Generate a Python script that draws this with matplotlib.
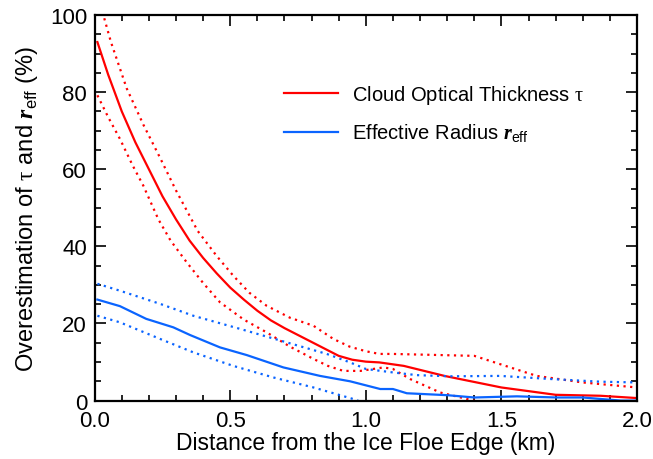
import matplotlib
matplotlib.use("Agg")
import matplotlib.pyplot as plt
from matplotlib.ticker import MultipleLocator

plt.rcParams['font.family'] = ['Liberation Sans', 'DejaVu Sans']
plt.rcParams['mathtext.fontset'] = 'custom'
plt.rcParams['mathtext.rm'] = 'Liberation Serif'
plt.rcParams['mathtext.bf'] = 'Liberation Serif:bold:italic'
plt.rcParams['mathtext.sf'] = 'Liberation Sans'

# Cloud optical thickness tau: mean and spread (dotted)
tau_x = [0.01, 0.05, 0.1, 0.15, 0.2, 0.25, 0.3, 0.35, 0.4, 0.45, 0.5, 0.55, 0.6, 0.65, 0.7, 0.75,
         0.8, 0.85, 0.9, 0.95, 1.0, 1.05, 1.14, 1.29, 1.5, 1.7, 1.865, 2.0]
tau_y = [93, 84.5, 75, 67, 60, 53, 47, 41.5, 37, 33, 29.3, 26.2, 23.3, 20.8, 18.8, 17,
         15.2, 13.4, 11.6, 10.6, 10.1, 9.9, 9.0, 6.4, 3.4, 1.5, 1.25, 0.65]
tau_up_x = [0.01, 0.032, 0.06, 0.118, 0.18, 0.241, 0.3, 0.38, 0.45, 0.511, 0.57, 0.634, 0.72,
            0.807, 0.88, 0.94, 1.0, 1.05, 1.10, 1.40, 1.63, 1.80, 2.0]
tau_up_y = [105.5, 100, 93, 81, 71.5, 63, 54.5, 44, 37.5, 32.4, 28, 24.6, 21.5,
            19.4, 16, 14, 12.8, 12.1, 12.1, 11.6, 6.4, 4.7, 3.4]
tau_lo_x = [0.01, 0.05, 0.093, 0.14, 0.179, 0.235, 0.28, 0.339, 0.4, 0.462, 0.55, 0.634, 0.72,
            0.807, 0.86, 0.917, 0.98, 1.065, 1.10, 1.163, 1.274, 1.397, 1.45]
tau_lo_y = [79.2, 73.5, 67.9, 61, 55.8, 47, 41.5, 35.9, 30.5, 25.5, 21, 17.7, 14,
            10.8, 9, 7.7, 7.7, 8.6, 8.2, 5.6, 2.1, 0, -1]

# Effective radius r_eff: mean and spread (dotted)
reff_x = [0.01, 0.093, 0.19, 0.29, 0.352, 0.462, 0.561, 0.696, 0.831, 0.942, 1.053, 1.10, 1.151,
          1.30, 1.40, 1.557, 1.705, 1.80, 1.94, 2.0]
reff_y = [26.2, 24.5, 21.2, 19, 17, 13.8, 11.8, 8.6, 6.4, 5.0, 3.0, 3.0, 1.9,
          1.4, 0.8, 1.1, 0.8, 0.8, 0, 0]
reff_up_x = [0.01, 0.093, 0.241, 0.364, 0.536, 0.708, 0.856, 0.942, 1.0, 1.10, 1.188, 1.311,
             1.496, 1.68, 1.865, 2.0]
reff_up_y = [30.3, 28.5, 25.1, 22, 18.6, 15.1, 12.1, 9.9, 8.2, 7.3, 6.6, 6.3,
             6.4, 5.6, 4.9, 4.7]
reff_lo_x = [0.01, 0.093, 0.241, 0.364, 0.511, 0.659, 0.807, 0.954, 1.0]
reff_lo_y = [22, 20.3, 16, 12.5, 9.0, 6.0, 3.4, 0.4, -0.8]

labels = ["Cloud Optical Thickness $\\mathrm{\\tau}$",
          "Effective Radius $\\mathbf{r}_{\\mathsf{eff}}$"]
xticks = [0.0, 0.5, 1.0, 1.5, 2.0]
xticklabels = ["0.0", "0.5", "1.0", "1.5", "2.0"]
yticks = [0, 20, 40, 60, 80, 100]

RED = '#FF0000'
BLUE = '#0A64FF'

fig = plt.figure(figsize=(6.53, 4.60), dpi=100)
ax = fig.add_axes([0.145, 0.127, 0.8305, 0.838])

dot = (0, (1, 2))
ax.plot(tau_x, tau_y, color=RED, lw=1.6, label=labels[0])
ax.plot(tau_up_x, tau_up_y, color=RED, lw=1.6, ls=dot)
ax.plot(tau_lo_x, tau_lo_y, color=RED, lw=1.6, ls=dot)
ax.plot(reff_x, reff_y, color=BLUE, lw=1.6, label=labels[1])
ax.plot(reff_up_x, reff_up_y, color=BLUE, lw=1.6, ls=dot)
ax.plot(reff_lo_x, reff_lo_y, color=BLUE, lw=1.6, ls=dot)

ax.set_xlim(0, 2.0)
ax.set_ylim(0, 100)
ax.set_xticks(xticks)
ax.set_xticklabels(xticklabels)
ax.set_yticks(yticks)
ax.xaxis.set_minor_locator(MultipleLocator(0.1))
ax.yaxis.set_minor_locator(MultipleLocator(5))
ax.tick_params(which='both', direction='in', top=True, right=True, width=1.2,
               labelsize=16, colors='black')
ax.tick_params(which='major', length=8)
ax.tick_params(which='minor', length=4.5)
ax.tick_params(axis='x', which='major', pad=7)
ax.tick_params(axis='y', which='major', pad=5.5)
for s in ax.spines.values():
    s.set_linewidth(1.6)

ax.set_xlabel("Distance from the Ice Floe Edge (km)", fontsize=16.5, labelpad=0)
ax.set_ylabel("Overestimation of $\\mathrm{\\tau}$ and $\\mathbf{r}_{\\mathsf{eff}}$ (%)",
              fontsize=17, labelpad=7)

leg = ax.legend(loc='upper left', bbox_to_anchor=(0.349, 0.825), frameon=False,
                fontsize=14.5, handlelength=2.7, handletextpad=0.7, labelspacing=0.8,
                borderaxespad=0, borderpad=0)

fig.savefig("out.png", dpi=100)
